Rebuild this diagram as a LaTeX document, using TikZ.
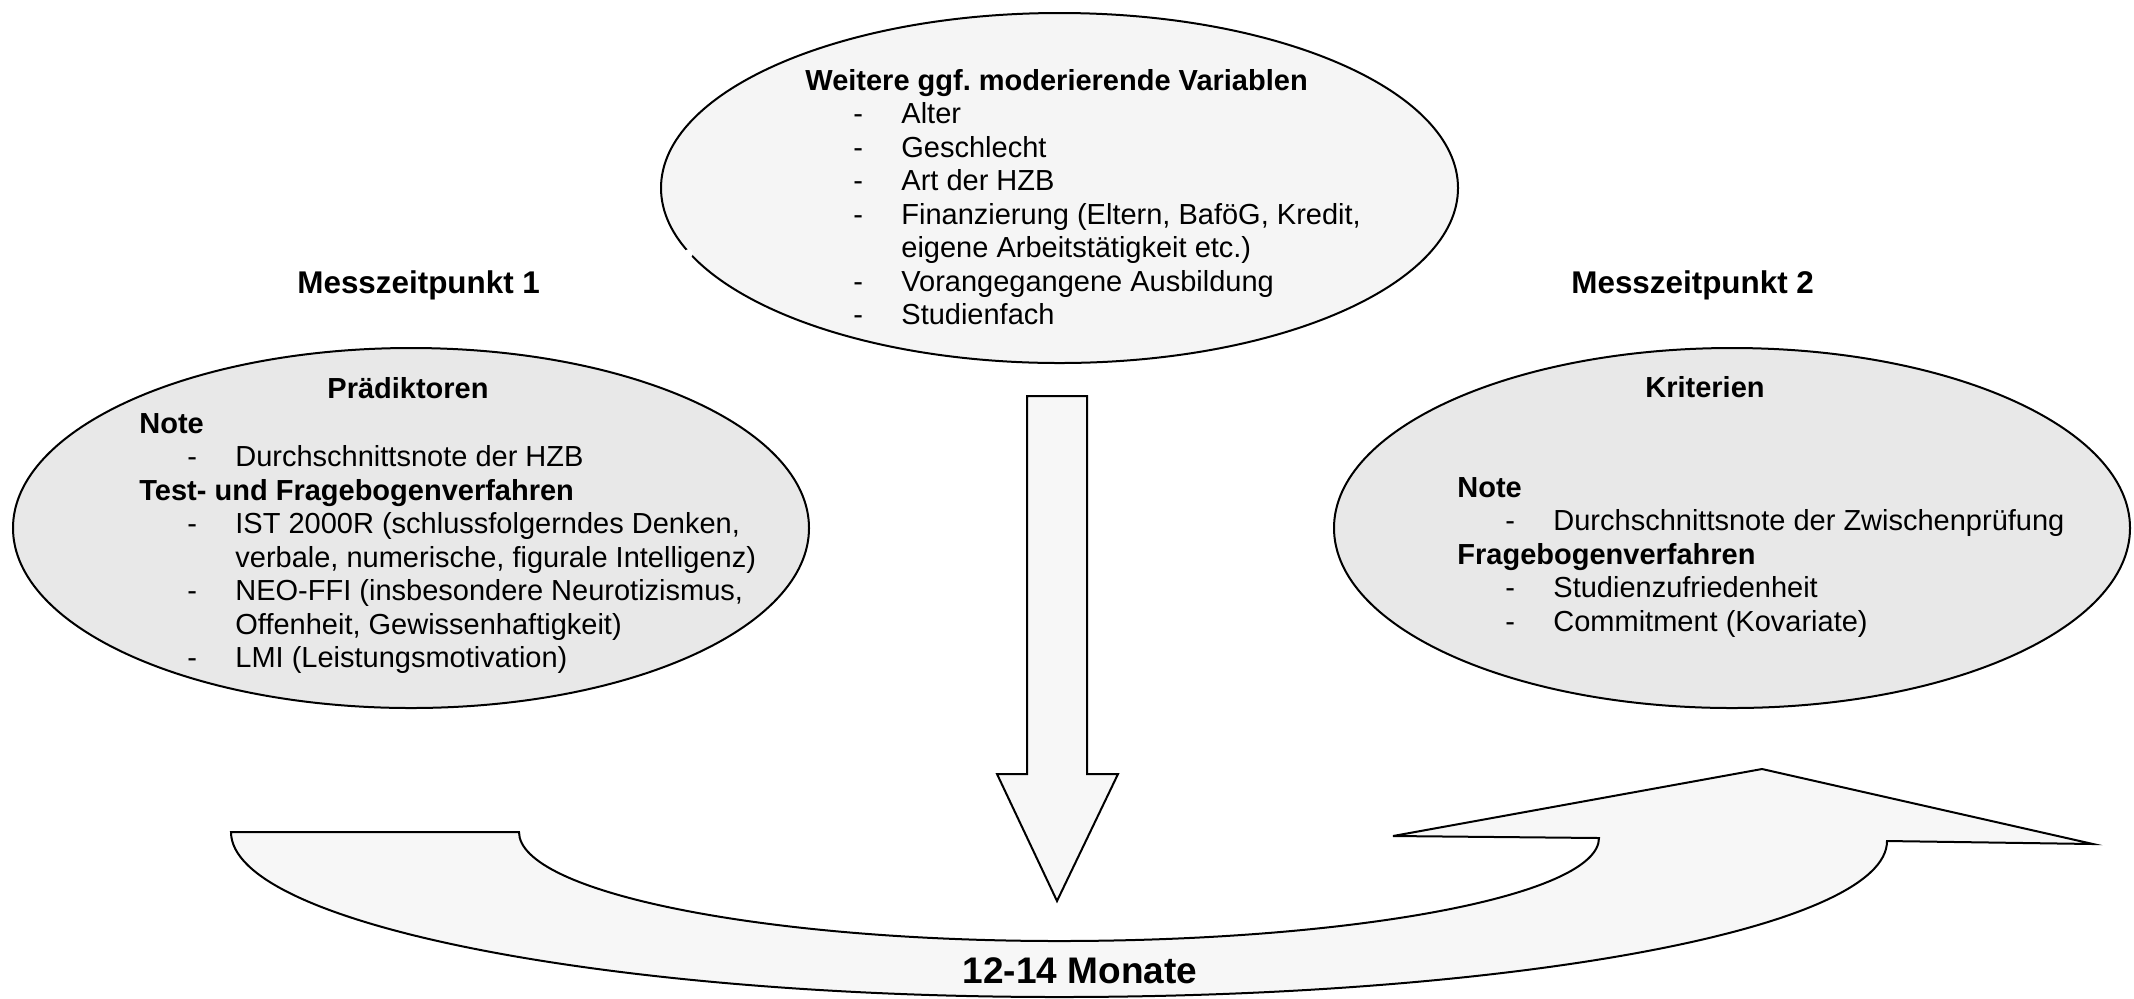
\documentclass[tikz,border=0pt]{standalone}
\usepackage{fontspec}
\setmainfont{Liberation Sans}
\usetikzlibrary{shapes.geometric}
\frenchspacing
\definecolor{ellgrey}{RGB}{232,232,232}
\definecolor{modfill}{RGB}{245,245,245}
\definecolor{arrowfill}{RGB}{247,247,247}
% list entries: indented dash, then the text; continuation lines align with the text
\newcommand\itm[1]{\hspace*{24pt}\makebox[24pt][l]{-}#1}
\newcommand\cont[1]{\hspace*{48pt}#1}
\begin{document}
\begin{tikzpicture}[x=0.5pt,y=-0.5pt,
  outline/.style={draw=black, line width=1pt},
  phase/.style={outline, ellipse, fill=ellgrey, minimum width=398pt, minimum height=180pt, inner sep=0pt},
  body/.style={font=\fontsize{14.5pt}{16.75pt}\selectfont, inner sep=0pt, anchor=base west},
  head/.style={font=\fontsize{14.5pt}{16.75pt}\selectfont\bfseries, inner sep=0pt, anchor=base},
  stage/.style={font=\fontsize{15.7pt}{18pt}\selectfont\bfseries, inner sep=0pt, anchor=base west},
  span/.style={font=\fontsize{18.5pt}{22pt}\selectfont\bfseries, inner sep=0pt, anchor=base},
  bigarrow/.style={outline, fill=arrowfill, line join=miter}
]
\useasboundingbox (0,0) rectangle (2134,998);

% moderating variables
\node[phase, fill=modfill, minimum width=398.5pt, minimum height=175pt] (moderators) at (1059.5,188) {};
\fill[white] (moderators.190) circle (2.2pt);
\node[body] (modlist) at (805,90) {\begin{tabular}[t]{@{}l@{}}
\textbf{Weitere ggf. moderierende Variablen}\\
\itm{Alter}\\
\itm{Geschlecht}\\
\itm{Art der HZB}\\
\itm{Finanzierung (Eltern, BaföG, Kredit,}\\
\cont{eigene Arbeitstätigkeit etc.)}\\
\itm{Vorangegangene Ausbildung}\\
\itm{Studienfach}
\end{tabular}};

% time points
\node[stage] (t1) at (297,293) {Messzeitpunkt 1};
\node[stage] (t2) at (1571,293) {Messzeitpunkt 2};

% predictors
\node[phase] (predictors) at (411,528) {};
\node[head] (predhead) at (408,398) {Prädiktoren};
\node[body] (predlist) at (139,433) {\begin{tabular}[t]{@{}l@{}}
\textbf{Note}\\
\itm{Durchschnittsnote der HZB}\\
\textbf{Test- und Fragebogenverfahren}\\
\itm{IST 2000R (schlussfolgerndes Denken,}\\
\cont{verbale, numerische, figurale Intelligenz)}\\
\itm{NEO-FFI (insbesondere Neurotizismus,}\\
\cont{Offenheit, Gewissenhaftigkeit)}\\
\itm{LMI (Leistungsmotivation)}
\end{tabular}};

% criteria
\node[phase] (criteria) at (1732,528) {};
\node[head] (crithead) at (1705,397) {Kriterien};
\node[body] (critlist) at (1457,497) {\begin{tabular}[t]{@{}l@{}}
\textbf{Note}\\
\itm{Durchschnittsnote der Zwischenprüfung}\\
\textbf{Fragebogenverfahren}\\
\itm{Studienzufriedenheit}\\
\itm{Commitment (Kovariate)}
\end{tabular}};

% downward block arrow
\draw[bigarrow] (1027,396) -- (1087,396) -- (1087,774) -- (1118,774)
  -- (1057,901) -- (997,774) -- (1027,774) -- cycle;

% curved block arrow for the time span
\draw[bigarrow] (231,832) -- (519,832)
  .. controls (519,892) and (761,941) .. (1059,941)
  .. controls (1357,941) and (1599,895) .. (1599,838)
  -- (1393,836) -- (1762,769) -- (2093,844) -- (1887,841)
  .. controls (1887,928) and (1516,997) .. (1059,997)
  .. controls (602,997) and (231,923) .. (231,832) -- cycle;
\node[span] (duration) at (1080,983) {12-14 Monate};
\end{tikzpicture}
\end{document}
